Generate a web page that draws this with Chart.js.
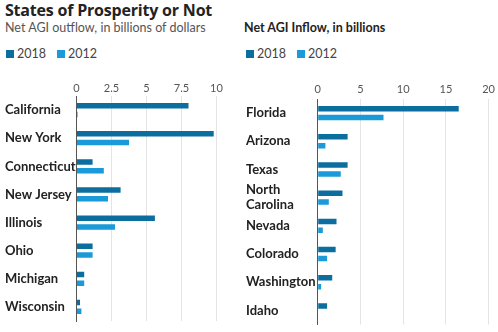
<!DOCTYPE html>
<html>
<head>
<meta charset="utf-8">
<script src="https://cdn.jsdelivr.net/npm/chart.js"></script>
<style>
  body { margin: 0; background: #fff; font-family: Lato, sans-serif; color: #222; }
  #wrap { position: relative; width: 498px; height: 332px; overflow: hidden; }
  .title { position: absolute; left: 5px; top: -1px; font-family: "Open Sans", sans-serif; font-size: 16px; font-weight: bold; color: #222; letter-spacing: -0.2px; }
  .sub { position: absolute; left: 5px; top: 20px; font-size: 12.5px; color: #555; }
  .rtitle { position: absolute; left: 244px; top: 20px; font-size: 12.5px; font-weight: bold; color: #222; }
  .legend { position: absolute; top: 46px; font-size: 12.5px; color: #444; white-space: nowrap; }
  .legend span.sw { display: inline-block; width: 8px; height: 8px; margin-right: 3px; vertical-align: 0px; }
  .legend span.item { margin-right: 11px; }
  canvas { position: absolute; }
</style>
</head>
<body>
<div id="wrap">
  <div class="title">States of Prosperity or Not</div>
  <div class="sub">Net AGI outflow, in billions of dollars</div>
  <div class="rtitle">Net AGI Inflow, in billions</div>
  <div class="legend" id="legL" style="left:6px"></div>
  <div class="legend" id="legR" style="left:246px"></div>
  <div id="boxL" style="position:absolute;left:0;top:60px;width:240px;height:272px"><canvas id="outChart"></canvas></div>
  <div id="boxR" style="position:absolute;left:240px;top:60px;width:258px;height:272px"><canvas id="inChart"></canvas></div>
</div>
<script>
const seriesNames = ['2018', '2012'];
const colors = ['#0b6e9f', '#1a9ad8'];

const outStates = ['California', 'New York', 'Connecticut', 'New Jersey', 'Illinois', 'Ohio', 'Michigan', 'Wisconsin'];
const out2018 = [8.0, 9.8, 1.15, 3.15, 5.6, 1.15, 0.55, 0.25];
const out2012 = [0.08, 3.75, 1.95, 2.25, 2.75, 1.15, 0.55, 0.35];

const inStates = ['Florida', 'Arizona', 'Texas', ['North', 'Carolina'], 'Nevada', 'Colorado', 'Washington', 'Idaho'];
const in2018 = [16.5, 3.5, 3.5, 2.9, 2.2, 2.1, 1.7, 1.1];
const in2012 = [7.7, 0.9, 2.7, 1.3, 0.6, 1.1, 0.4, 0];

for (const id of ['legL', 'legR']) {
  document.getElementById(id).innerHTML = seriesNames.map((n, i) =>
    `<span class="item"><span class="sw" style="background:${colors[i]}"></span>${n}</span>`).join('');
}

const makeChart = (id, labels, a, b, max, step, pad, xH, yW, tickPad) => new Chart(document.getElementById(id), {
  type: 'bar',
  data: {
    labels,
    datasets: [
      { label: seriesNames[0], data: a, backgroundColor: colors[0], categoryPercentage: 0.63, barPercentage: 0.62 },
      { label: seriesNames[1], data: b, backgroundColor: colors[1], categoryPercentage: 0.63, barPercentage: 0.62 }
    ]
  },
  options: {
    indexAxis: 'y',
    responsive: true,
    maintainAspectRatio: false,
    animation: false,
    layout: { padding: pad },
    plugins: { legend: { display: false }, tooltip: { enabled: false } },
    scales: {
      x: {
        position: 'top',
        min: 0, max,
        afterFit: s => { s.height = xH; },
        ticks: { stepSize: step, color: '#555', padding: tickPad, font: { family: 'Lato', size: 11 } },
        grid: { color: '#e4e4e4', drawTicks: false },
        border: { display: false }
      },
      y: {
        afterFit: s => { s.width = yW; },
        ticks: { autoSkip: false, crossAlign: 'far', color: '#222', padding: 0, font: { family: 'Lato', size: 13, weight: 'bold', lineHeight: 1.15 } },
        grid: { display: false, drawTicks: false },
        border: { color: '#555', width: 1 }
      }
    }
  }
});

makeChart('outChart', outStates, out2018, out2012, 10, 2.5, { left: 5, right: 23.5, top: 0, bottom: 11 }, 36, 71.5, 1);
makeChart('inChart', inStates, in2018, in2012, 20, 5, { left: 6, right: 7.3, top: 0, bottom: 6 }, 39, 71.7, 3);
</script>
</body>
</html>
